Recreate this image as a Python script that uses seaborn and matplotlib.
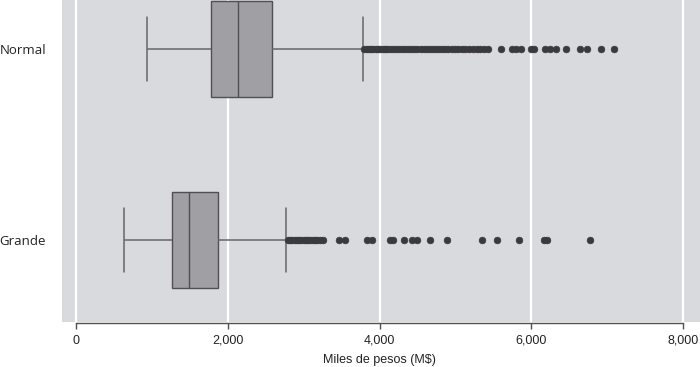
import numpy as np
import pandas as pd
import seaborn as sns
import matplotlib
matplotlib.use("Agg")
import matplotlib.pyplot as plt
from matplotlib.ticker import FuncFormatter

# ---------------- data ----------------
categories = ["Normal", "Grande"]
# whisker low, Q1, median, Q3, whisker high
normal_stats = [940, 1775, 2131, 2579, 3780]
grande_stats = [633, 1269, 1485, 1871, 2770]
normal_outliers = [3800, 3830, 3860, 3890, 3920, 3950, 3980, 4010, 4040, 4070,
                   4100, 4140, 4180, 4220, 4260, 4300, 4340, 4380, 4420, 4460,
                   4500, 4540, 4580, 4620, 4660, 4700, 4740, 4780, 4820, 4860,
                   4900, 4950, 5000, 5040, 5090, 5130, 5180, 5230, 5280, 5330,
                   5380, 5430, 5600, 5740, 5800, 5870, 5990, 6040, 6180, 6250,
                   6320, 6460, 6640, 6740, 6920, 7090]
grande_outliers = [2790, 2820, 2850, 2880, 2910, 2940, 2970, 3000, 3030, 3060,
                   3090, 3120, 3150, 3180, 3210, 3250, 3460, 3540, 3830, 3900,
                   4140, 4180, 4320, 4430, 4490, 4665, 4885, 5346, 5544, 5842,
                   6168, 6203, 6774]
x_ticks = [0, 2000, 4000, 6000, 8000]
x_label = "Miles de pesos (M$)"


def sample_from_summary(stats, outliers):
    """Sample whose box-plot summary equals the given five numbers + outliers."""
    lo, q1, med, q3, hi = stats
    m = len(outliers)
    b = m + 2
    return [lo] * (m + 1) + [q1] * b + [med] + [q3] * b + [hi] + list(outliers)


rows = []
for cat, st, out in zip(categories, [normal_stats, grande_stats],
                        [normal_outliers, grande_outliers]):
    for v in sample_from_summary(st, out):
        rows.append({"grupo": cat, "valor": v})
df = pd.DataFrame(rows)

# ---------------- style ----------------
sns.set_theme(style="white")
plt.rcParams["font.family"] = ["Liberation Sans", "DejaVu Sans"]

fig = plt.figure(figsize=(7.0, 3.67), dpi=100)
ax = fig.add_axes([62 / 700, 45 / 367, 638 / 700, 322 / 367])
ax.set_facecolor("#d9dade")

edge = "#505054"
wcol = "#66666a"
dot = "#3a3a3e"
sns.boxplot(data=df, x="valor", y="grupo", order=categories, orient="h",
            color="#a0a0a4", saturation=1, width=0.5, linecolor=edge,
            linewidth=1.0, ax=ax, capwidths=0.335,
            whiskerprops=dict(color=wcol, linewidth=1.1),
            capprops=dict(color=wcol, linewidth=1.1),
            flierprops=dict(marker="o", markersize=4.8, markerfacecolor=dot,
                            markeredgecolor=dot, markeredgewidth=0.5))

ax.set_xlim(-184, 8223)
ax.set_ylim(1.43, -0.257)
ax.set_xticks(x_ticks)
ax.xaxis.set_major_formatter(FuncFormatter(lambda v, p: f"{int(v):,}"))
ax.grid(axis="x", color="white", linewidth=1.6)
ax.grid(axis="y", visible=False)
ax.set_axisbelow(True)

for s in ["top", "right", "left"]:
    ax.spines[s].set_visible(False)
ax.spines["bottom"].set_bounds(0, 8000)
ax.spines["bottom"].set_color("#505050")
ax.spines["bottom"].set_linewidth(1.0)
ax.spines["bottom"].set_position(("outward", 1))

ax.tick_params(axis="x", length=4, width=1, color="#505050", pad=4,
               labelsize=9, labelcolor="#222222", bottom=True)
ax.tick_params(axis="y", length=0, pad=11.5, labelsize=9.5, labelcolor="#222222")
for lab in ax.get_yticklabels():
    lab.set_family(["Open Sans", "DejaVu Sans"])

ax.set_ylabel("")
ax.set_xlabel(x_label, fontsize=9, color="#222222")
ax.xaxis.set_label_coords((4000 + 184) / (8223 + 184), -0.1)

fig.savefig("out.png", dpi=100, facecolor="white")
